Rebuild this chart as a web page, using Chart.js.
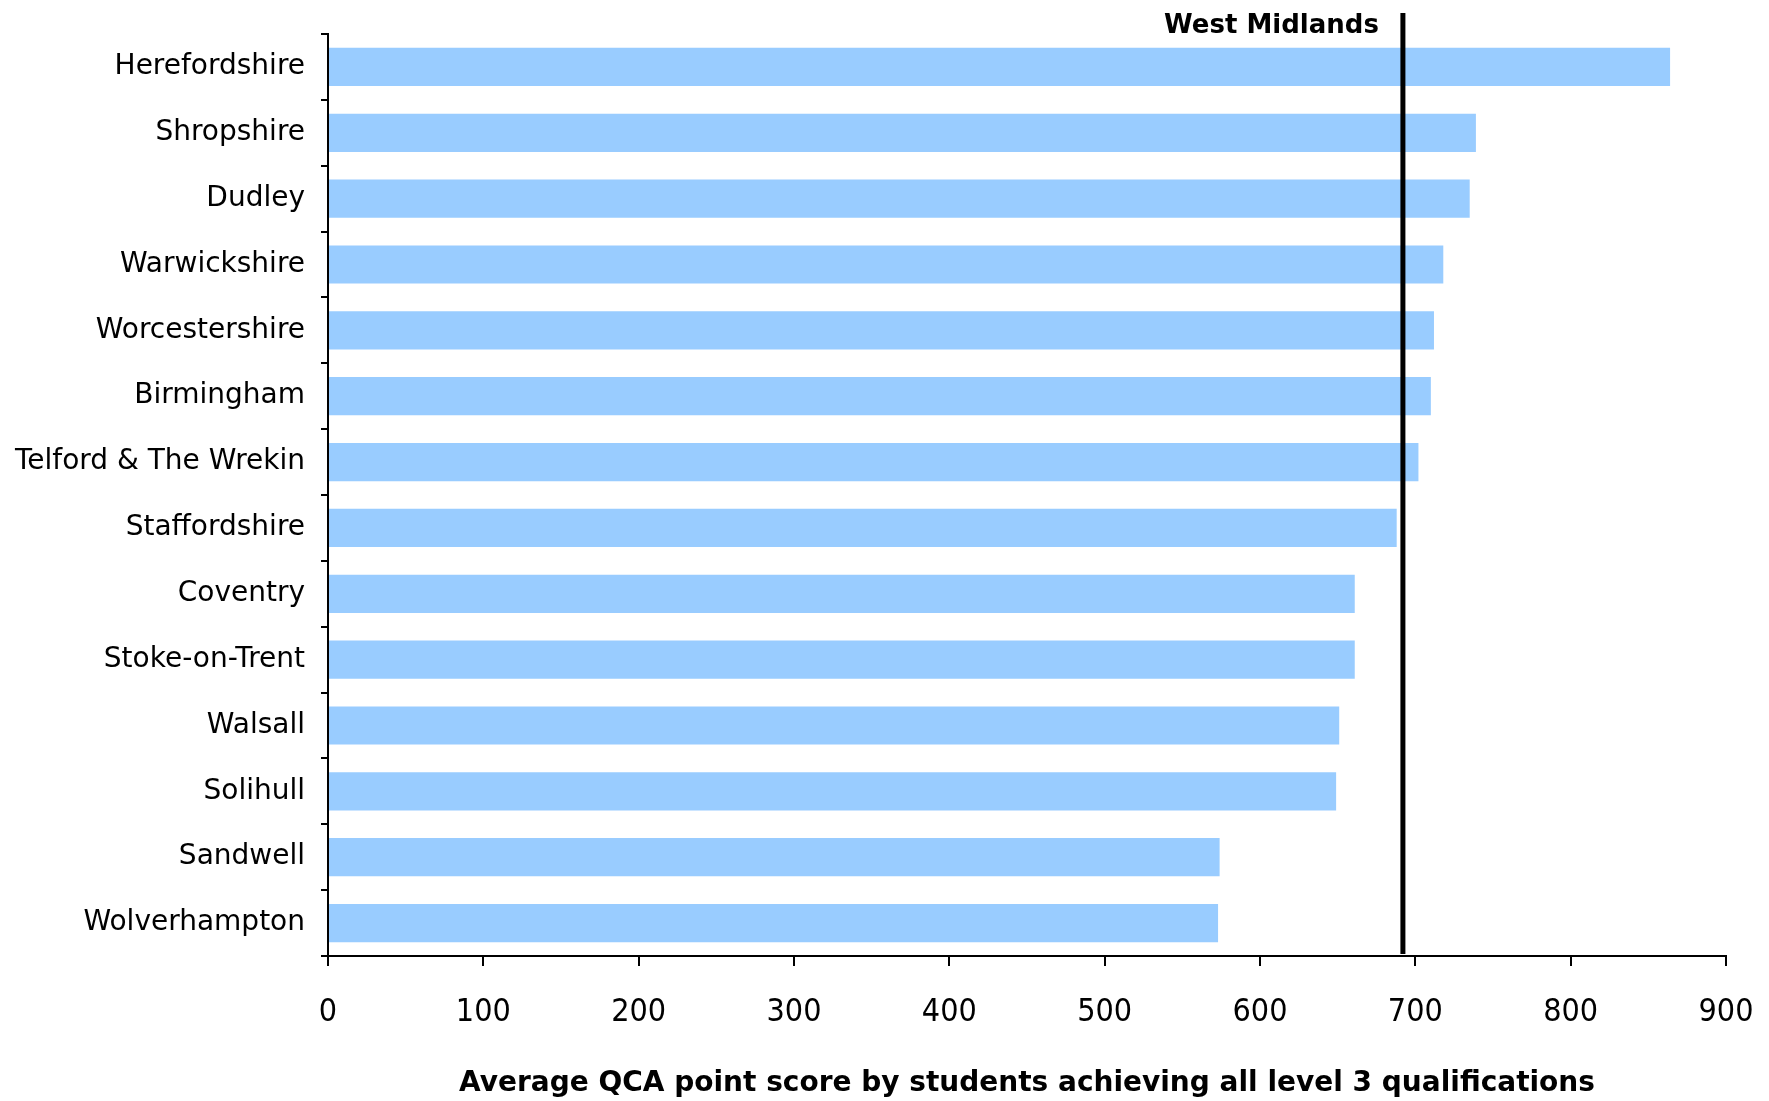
<!DOCTYPE html>
<html>
<head>
<meta charset="utf-8">
<script src="https://cdn.jsdelivr.net/npm/chart.js@4/dist/chart.umd.min.js"></script>
<style>
  body { margin: 0; background: #fff; }
  #wrap { width: 1769px; height: 1101px; }
</style>
</head>
<body>
<div id="wrap"><canvas id="chart" width="1769" height="1101"></canvas></div>
<script>
// ===== Data =====
const areas = ['Herefordshire', 'Shropshire', 'Dudley', 'Warwickshire', 'Worcestershire', 'Birmingham',
  'Telford & The Wrekin', 'Staffordshire', 'Coventry', 'Stoke-on-Trent', 'Walsall', 'Solihull',
  'Sandwell', 'Wolverhampton'];
const scores = [864, 739, 735, 718, 712, 710, 702, 688, 661, 661, 651, 649, 574, 573];
const refLabel = 'West Midlands';
const refValue = 692;
const xTicks = [0, 100, 200, 300, 400, 500, 600, 700, 800, 900];
const xTitle = 'Average QCA point score by students achieving all level 3 qualifications';

const FONT = "'DejaVu Sans', sans-serif";
const FONT_NUM = "'DejaVu Sans Condensed', 'DejaVu Sans', sans-serif";

// ===== West Midlands reference line =====
const refLine = {
  id: 'refLine',
  afterDatasetsDraw(chart) {
    const { ctx, scales: { x }, chartArea } = chart;
    const px = x.getPixelForValue(refValue);
    ctx.save();
    ctx.strokeStyle = '#000';
    ctx.lineWidth = 5;
    ctx.beginPath();
    ctx.moveTo(px, chartArea.top - 21);
    ctx.lineTo(px, chartArea.bottom - 2);
    ctx.stroke();
    ctx.fillStyle = '#000';
    ctx.font = 'bold 26px ' + FONT;
    ctx.textAlign = 'right';
    ctx.textBaseline = 'middle';
    ctx.fillText(refLabel, px - 24, chartArea.top - 8);
    ctx.restore();
  }
};

new Chart(document.getElementById('chart'), {
  type: 'bar',
  data: {
    labels: areas,
    datasets: [{
      data: scores,
      backgroundColor: '#99CCFF',
      borderWidth: 0,
      barPercentage: 0.58,
      categoryPercentage: 1
    }]
  },
  options: {
    indexAxis: 'y',
    responsive: false,
    animation: false,
    layout: { padding: { top: 34, right: 43, bottom: 0, left: 0 } },
    plugins: { legend: { display: false }, tooltip: { enabled: false } },
    scales: {
      x: {
        min: 0,
        max: 900,
        afterFit: s => { s.height = 145; s.paddingLeft = 0; s.paddingRight = 0; },
        afterBuildTicks: s => { s.ticks = xTicks.map(v => ({ value: v })); },
        border: { display: true, color: '#000', width: 2 },
        grid: { drawOnChartArea: false, drawTicks: true, tickLength: 10, color: '#000', lineWidth: 2 },
        ticks: { color: '#000', font: { family: FONT_NUM, size: 32 }, padding: 27 },
        title: {
          display: true,
          text: xTitle,
          color: '#000',
          font: { family: FONT, size: 28, weight: 'bold' },
          padding: { top: 0, bottom: 0 }
        }
      },
      y: {
        afterFit: s => { s.width = 328; },
        border: { display: true, color: '#000', width: 2 },
        grid: { drawOnChartArea: false, drawTicks: true, tickLength: 7, color: '#000', lineWidth: 2 },
        ticks: { color: '#000', font: { family: FONT, size: 28 }, padding: 16 }
      }
    }
  },
  plugins: [refLine]
});
</script>
</body>
</html>
